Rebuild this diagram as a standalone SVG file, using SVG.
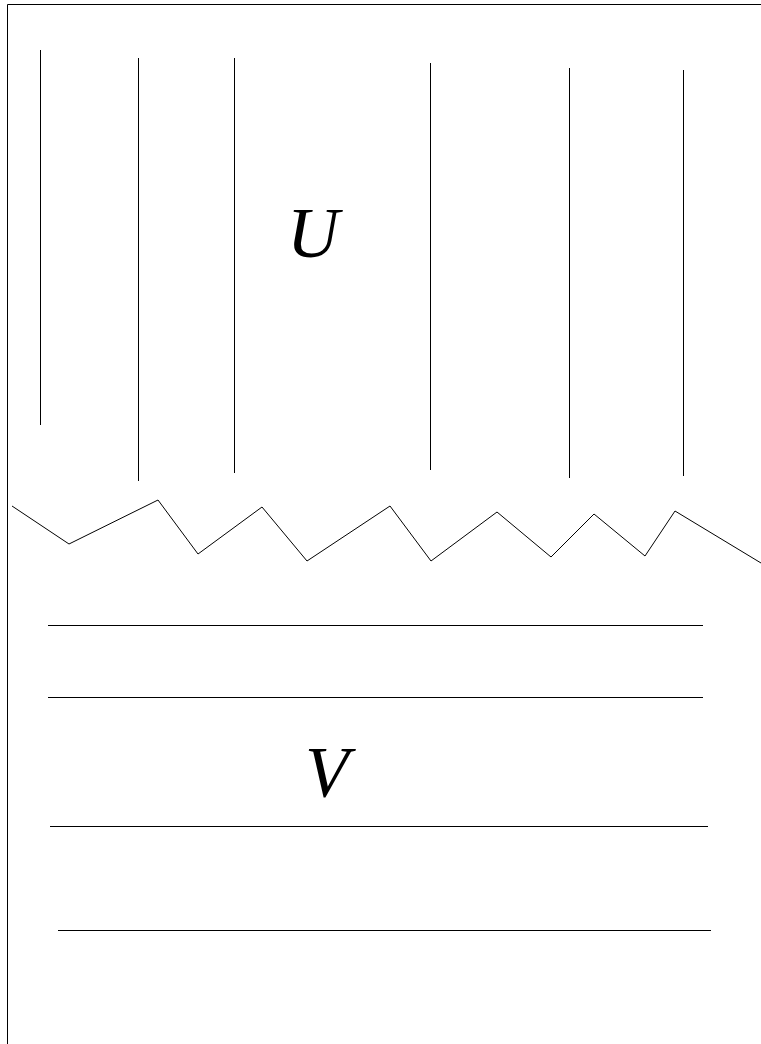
<svg xmlns="http://www.w3.org/2000/svg" width="761" height="1044" viewBox="0 0 761 1044">
<style>
.ln{stroke:#000;stroke-width:1;fill:none}
.lbl{font-family:"Liberation Serif",serif;font-style:italic;font-size:72px;fill:#000;text-anchor:middle}
</style>
<rect width="761" height="1044" fill="#fff"/>
<g id="frame">
<path class="ln" d="M7.5,1044 V4.5 H761" stroke="#333" stroke-width="1.5"/>
</g>
<g id="U-region">
<line class="ln" x1="40.5" y1="50" x2="40.5" y2="425"/>
<line class="ln" x1="138.5" y1="58" x2="138.5" y2="481"/>
<line class="ln" x1="234.5" y1="58" x2="234.5" y2="473"/>
<line class="ln" x1="430.5" y1="63" x2="430.5" y2="470"/>
<line class="ln" x1="569.5" y1="68" x2="569.5" y2="478"/>
<line class="ln" x1="683.5" y1="70" x2="683.5" y2="476"/>
<text class="lbl" x="313" y="257">U</text>
</g>
<g id="boundary">
<polyline class="ln" points="12,506 69,544 158,500 198,554 262,507 307,561 390,506 431,561 497,512 551,557 594,514 645,556 675,511 761,563"/>
</g>
<g id="V-region">
<line class="ln" x1="48" y1="625.5" x2="703" y2="625.5"/>
<line class="ln" x1="48" y1="697.5" x2="703" y2="697.5"/>
<line class="ln" x1="50" y1="826.5" x2="708" y2="826.5"/>
<line class="ln" x1="58" y1="930.5" x2="711" y2="930.5"/>
<text class="lbl" x="327" y="796">V</text>
</g>
</svg>
